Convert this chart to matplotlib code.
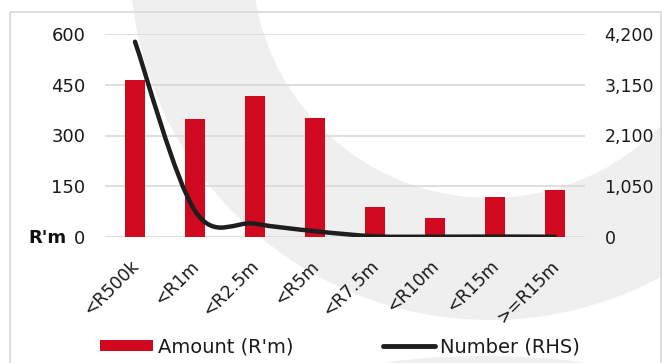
import numpy as np
import matplotlib
matplotlib.use("Agg")
import matplotlib.pyplot as plt
from matplotlib.patches import Annulus, Rectangle, PathPatch, Patch, Ellipse
from matplotlib.path import Path
from matplotlib.lines import Line2D
from matplotlib.transforms import ScaledTranslation

categories = ["<R500k", "<R1m", "<R2.5m", "<R5m", "<R7.5m", "<R10m", "<R15m", ">=R15m"]
amount = [463, 349, 416, 351, 88, 55, 117, 140]
number = [4040, 540, 275, 120, 15, 6, 9, 5]
left_ticks = [0, 150, 300, 450, 600]
right_ticks = [0, 1050, 2100, 3150, 4200]

RED = "#D0091F"
LINE = "#1E1E1E"
GRID = "#D9D9D9"
WM = "#EFEFEF"
TXT = "#1a1a1a"

plt.rcParams['font.family'] = ['DejaVu Sans']
W, H = 662, 363
fig = plt.figure(figsize=(W / 100, H / 100), dpi=100)

# background watermark + border (pixel coordinates)
bg = fig.add_axes([0, 0, 1, 1], zorder=0)
bg.set_xlim(0, W)
bg.set_ylim(H, 0)
bg.axis("off")
bg.add_patch(Annulus((490, -40), 360, 122, color=WM, lw=0))
bg.add_patch(Ellipse((485, 377), 270, 42, color=WM, lw=0))
bg.add_patch(Rectangle((10, 12), 651, 360, fill=False, edgecolor=GRID, lw=1.2))

ax = fig.add_axes([105 / W, 1 - 237 / H, 480 / W, 203 / H], zorder=1)
ax.patch.set_alpha(0)
x = np.arange(len(categories))
ax.bar(x, amount, width=0.32, color=RED, zorder=2)
ax.set_xlim(-0.5, len(categories) - 0.5)
ax.set_ylim(0, 600)
ax.set_yticks(left_ticks)
ax.set_yticklabels([str(v) for v in left_ticks], fontsize=13, color=TXT)
ax.yaxis.grid(True, color=GRID, lw=1.2, zorder=0)
ax.set_axisbelow(True)
for s in ax.spines.values():
    s.set_visible(False)
ax.tick_params(axis="both", length=0)
ax.tick_params(axis="y", pad=14)
ax.set_xticks(x)
ax.set_xticklabels(categories, fontsize=12.5, rotation=45, ha="right", va="center",
                   rotation_mode="anchor", color=TXT)
ax.tick_params(axis="x", pad=19)
for lab in ax.get_xticklabels():
    lab.set_transform(lab.get_transform() + ScaledTranslation(1 / 100, 0, fig.dpi_scale_trans))

ax2 = ax.twinx()
ax2.set_ylim(0, 4200)
ax2.set_yticks(right_ticks)
ax2.set_yticklabels([f"{v:,}" for v in right_ticks], fontsize=12.5, color=TXT)
ax2.tick_params(axis="y", length=0, pad=14)
for s in ax2.spines.values():
    s.set_visible(False)

# smoothed line (Catmull-Rom style Bezier through the data points)
pts = np.column_stack([x, number]).astype(float)
n = len(pts)
verts = [pts[0]]
codes = [Path.MOVETO]
for i in range(n - 1):
    p0 = pts[i - 1] if i > 0 else pts[i]
    p1 = pts[i]
    p2 = pts[i + 1]
    p3 = pts[i + 2] if i + 2 < n else pts[i + 1]
    c1 = p1 + (p2 - p0) / 6
    c2 = p2 - (p3 - p1) / 6
    verts += [c1, c2, p2]
    codes += [Path.CURVE4] * 3
path = Path(verts, codes)
ax2.add_patch(PathPatch(path, fill=False, edgecolor=LINE, lw=3.2, capstyle="round",
                        joinstyle="round", zorder=3))

fig.text(66 / W, 1 - 238 / H, "R'm", fontsize=13, fontweight="bold", ha="right",
         va="center", color="#111111")

handles = [Patch(facecolor=RED, edgecolor="none"),
           Line2D([0], [0], color=LINE, lw=3.5, solid_capstyle="round")]
fig.legend(handles, ["Amount (R'm)", "Number (RHS)"], loc="center",
           bbox_to_anchor=(340 / W, 1 - 347 / H), ncol=2, frameon=False, fontsize=14,
           handlelength=2.7, handleheight=0.55, handletextpad=0.25, columnspacing=4.6,
           labelcolor=TXT, borderpad=0, borderaxespad=0)

fig.savefig("out.png", dpi=100)
